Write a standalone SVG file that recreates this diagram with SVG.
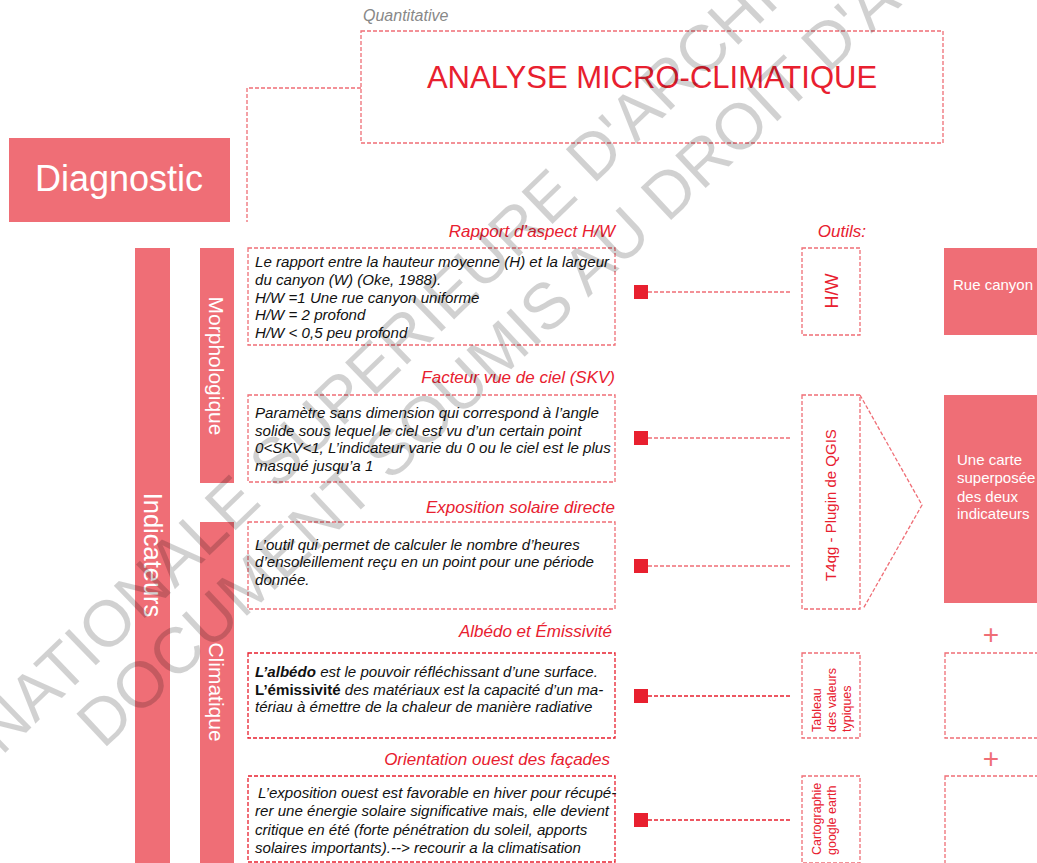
<svg xmlns="http://www.w3.org/2000/svg" width="1037" height="863" viewBox="0 0 1037 863">
<defs>
<style>
.fill{fill:#ef6e76}
.dash{fill:none;stroke:#ef6e76;stroke-width:1.3;stroke-dasharray:4 2}
.dashr{fill:none;stroke:#e8202f;stroke-width:1.3;stroke-dasharray:4 2}
.sans{font-family:"Liberation Sans",Arial,sans-serif}
.head{font-family:"Liberation Sans",Arial,sans-serif;font-style:italic;font-size:17px;fill:#e8202f;text-anchor:end}
.body{font-family:"Liberation Sans",Arial,sans-serif;font-style:italic;font-size:15.1px;fill:#111}
.wlab{font-family:"Liberation Sans",Arial,sans-serif;fill:#fff}
.tool{font-family:"Liberation Sans",Arial,sans-serif;fill:#e8202f}
.sq{fill:#e8202f}
.wm{font-family:"Liberation Sans",Arial,sans-serif;font-size:65px;fill:#000;fill-opacity:0.18}
</style>
</defs>

<g id="quantitative"><text class="sans" x="363" y="21" font-size="16" font-style="italic" fill="#888">Quantitative</text></g>

<g id="analyse">
<rect class="dash" x="361" y="31" width="582" height="112"/>
<text class="sans" x="652" y="88" font-size="31" fill="#e8202f" text-anchor="middle">ANALYSE MICRO-CLIMATIQUE</text>
</g>

<g id="diagnostic">
<rect class="fill" x="9" y="138" width="221" height="84"/>
<text class="wlab" x="119" y="191" font-size="36" text-anchor="middle">Diagnostic</text>
</g>

<g id="indicateurs">
<rect class="fill" x="135" y="248" width="35" height="615"/>
<text class="wlab" transform="translate(144 555) rotate(90)" font-size="25.5" text-anchor="middle">Indicateurs</text>
</g>

<g id="morphologique">
<rect class="fill" x="200" y="248" width="34" height="235"/>
<text class="wlab" transform="translate(209 366) rotate(90)" font-size="21" text-anchor="middle">Morphologique</text>
</g>

<g id="climatique">
<rect class="fill" x="200" y="522" width="34" height="341"/>
<text class="wlab" transform="translate(209 692) rotate(90)" font-size="21" text-anchor="middle">Climatique</text>
</g>

<g id="connectors">
<polyline class="dash" points="361,88 247,88 247,222"/>
<line class="dash" x1="648" y1="292" x2="792" y2="292"/>
<line class="dash" x1="648" y1="438" x2="792" y2="438"/>
<line class="dash" x1="648" y1="566" x2="792" y2="566"/>
<line class="dashr" x1="648" y1="696" x2="792" y2="696"/>
<line class="dashr" x1="648" y1="820" x2="792" y2="820"/>
<polyline class="dash" points="860,395 922,505 863,609"/>
<rect class="sq" x="634" y="285" width="14" height="14"/>
<rect class="sq" x="634" y="431" width="14" height="14"/>
<rect class="sq" x="634" y="559" width="14" height="14"/>
<rect class="sq" x="634" y="689" width="14" height="14"/>
<rect class="sq" x="634" y="813" width="14" height="14"/>
</g>

<g id="hw">
<text class="head" x="615" y="237">Rapport d’aspect H/W</text>
<rect class="dash" x="248" y="248" width="367" height="97"/>
<text class="body"><tspan x="255" y="267">Le rapport entre la hauteur moyenne (H) et la largeur</tspan><tspan x="255" y="285">du canyon (W) (Oke, 1988).</tspan><tspan x="255" y="303">H/W =1 Une rue canyon uniforme</tspan><tspan x="255" y="320">H/W = 2 profond</tspan><tspan x="255" y="338">H/W &lt; 0,5 peu profond</tspan></text>
</g>

<g id="skv">
<text class="head" x="615" y="383">Facteur vue de ciel (SKV)</text>
<rect class="dash" x="248" y="395" width="367" height="87"/>
<text class="body"><tspan x="255" y="418">Paramètre sans dimension qui correspond à l’angle</tspan><tspan x="255" y="436">solide sous lequel le ciel est vu d’un certain point</tspan><tspan x="255" y="453">0&lt;SKV&lt;1, L’indicateur varie du 0 ou le ciel est le plus</tspan><tspan x="255" y="471">masqué jusqu’a 1</tspan></text>
</g>

<g id="exposition">
<text class="head" x="615" y="513">Exposition solaire directe</text>
<rect class="dash" x="248" y="522" width="367" height="87"/>
<text class="body"><tspan x="255" y="550">L’outil qui permet de calculer le nombre d’heures</tspan><tspan x="255" y="567">d’ensoleillement reçu en un point pour une période</tspan><tspan x="255" y="585">donnée.</tspan></text>
</g>

<g id="albedo">
<text class="head" x="612" y="637">Albédo et Émissivité</text>
<rect class="dashr" x="248" y="653" width="367" height="85"/>
<text class="body"><tspan x="255" y="677"><tspan font-weight="bold">L’albédo</tspan> est le pouvoir réfléchissant d’une surface.</tspan><tspan x="255" y="695"><tspan font-weight="bold" font-style="normal">L’émissivité</tspan> des matériaux est la capacité d’un ma-</tspan><tspan x="255" y="712">tériau à émettre de la chaleur de manière radiative</tspan></text>
</g>

<g id="orientation">
<text class="head" x="610" y="765">Orientation ouest des façades</text>
<rect class="dashr" x="248" y="776" width="367" height="86"/>
<text class="body"><tspan x="258" y="798">L’exposition ouest est favorable en hiver pour récupé-</tspan><tspan x="255" y="816">rer une énergie solaire significative mais, elle devient</tspan><tspan x="255" y="835">critique en été (forte pénétration du soleil, apports</tspan><tspan x="255" y="853">solaires importants).--&gt; recourir a la climatisation</tspan></text>
</g>

<g id="outils"><text class="head" x="866" y="237">Outils:</text></g>

<g id="tool-hw">
<rect class="dash" x="802" y="248" width="58" height="87"/>
<text class="tool" transform="translate(838 291) rotate(-90)" font-size="18" text-anchor="middle">H/W</text>
</g>

<g id="tool-t4qg">
<rect class="dash" x="802" y="395" width="58" height="214"/>
<text class="tool" transform="translate(836 505) rotate(-90)" font-size="15" text-anchor="middle">T4qg - Plugin de QGIS</text>
</g>

<g id="tool-tableau">
<rect class="dash" x="802" y="653" width="58" height="85"/>
<text class="tool" transform="translate(821 732) rotate(-90)" font-size="12.5">Tableau</text>
<text class="tool" transform="translate(836 732) rotate(-90)" font-size="12.5">des valeurs</text>
<text class="tool" transform="translate(851 732) rotate(-90)" font-size="12.5">typiques</text>
</g>

<g id="tool-carto">
<rect class="dash" x="802" y="776" width="58" height="87"/>
<text class="tool" transform="translate(821 855) rotate(-90)" font-size="12.5">Cartographie</text>
<text class="tool" transform="translate(836 855) rotate(-90)" font-size="12.5">google earth</text>
</g>

<g id="rue-canyon">
<rect class="fill" x="944" y="248" width="93" height="87"/>
<text class="wlab" x="953" y="290" font-size="15">Rue canyon</text>
</g>

<g id="carte">
<rect class="fill" x="944" y="395" width="93" height="208"/>
<text class="wlab" font-size="15"><tspan x="957" y="465">Une carte</tspan><tspan x="957" y="483">superposée</tspan><tspan x="957" y="502">des deux</tspan><tspan x="957" y="519">indicateurs</tspan></text>
</g>

<g id="result-3">
<text class="sans" x="991" y="644" font-size="28" fill="#ef6e76" text-anchor="middle">+</text>
<rect class="dash" x="945" y="653" width="94" height="85"/>
</g>

<g id="result-4">
<text class="sans" x="991" y="768" font-size="28" fill="#ef6e76" text-anchor="middle">+</text>
<rect class="dash" x="945" y="776" width="94" height="88"/>
</g>

<g id="watermark">
<text class="wm" transform="translate(-170 922) rotate(-44)">ECOLE NATIONALE SUPERIEURE D'ARCHITECTURE</text>
<text class="wm" transform="translate(103 750) rotate(-43)">DOCUMENT SOUMIS AU DROIT D'AUTEUR</text>
</g>
</svg>
